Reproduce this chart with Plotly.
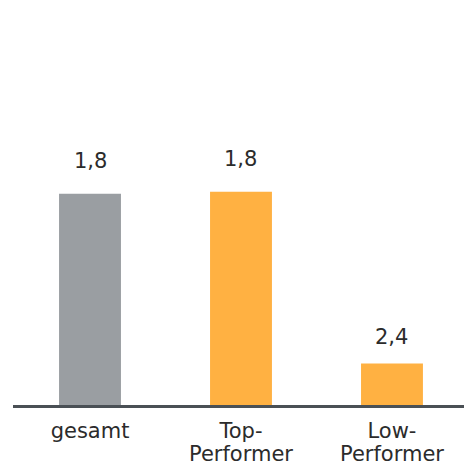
import plotly.graph_objects as go

categories_line1 = ["gesamt", "Top-", "Low-"]
categories_line2 = ["", "Performer", "Performer"]
bar_heights = [5.24, 5.29, 1.03]
value_labels = ["1,8", "1,8", "2,4"]
bar_colors = ["#9a9ea2", "#ffb142", "#ffb142"]

x_pos = list(range(len(categories_line1)))
FONT = "DejaVu Sans"
TXT = "#2b2b2b"
XR = [-0.51, 2.477]
label_gap = [19, 19, 12]  # pixel gap of each value label above its bar

fig = go.Figure()
fig.add_trace(go.Bar(
    x=x_pos, y=bar_heights, width=0.41,
    marker=dict(color=bar_colors, line=dict(width=0)),
    hoverinfo="skip",
))
# invisible helper trace so the second label row (xaxis2) is drawn
fig.add_trace(go.Scatter(
    x=x_pos, y=bar_heights, xaxis="x2", mode="markers",
    marker=dict(opacity=0), hoverinfo="skip", showlegend=False,
))

for xi, h, lab, gap in zip(x_pos, bar_heights, value_labels, label_gap):
    fig.add_annotation(x=xi, y=h, text=lab, showarrow=False,
                       yanchor="bottom", yshift=gap,
                       font=dict(family=FONT, size=21, color=TXT))

fig.update_layout(
    width=464, height=470,
    margin=dict(l=13, r=0, t=0, b=65),
    paper_bgcolor="white", plot_bgcolor="white",
    showlegend=False,
    font=dict(family=FONT, size=21, color=TXT),
    xaxis=dict(
        range=XR,
        tickmode="array", tickvals=x_pos, ticktext=categories_line1,
        showline=True, linewidth=3, linecolor="#4a5055",
        showgrid=False, zeroline=False, ticks="",
        ticklabelstandoff=5,
        tickfont=dict(family=FONT, size=21, color=TXT),
    ),
    xaxis2=dict(
        range=XR, overlaying="x", anchor="y", side="bottom",
        tickmode="array", tickvals=x_pos, ticktext=categories_line2,
        showline=False, showgrid=False, zeroline=False, ticks="",
        ticklabelstandoff=34,
        tickfont=dict(family=FONT, size=21, color=TXT),
    ),
    yaxis=dict(range=[0, 10.05], visible=False, showgrid=False, zeroline=False),
)

fig.write_html(
    "out.html",
    config={"displayModeBar": False},
    post_script="document.body.style.margin='0';document.body.style.overflow='hidden';",
)
